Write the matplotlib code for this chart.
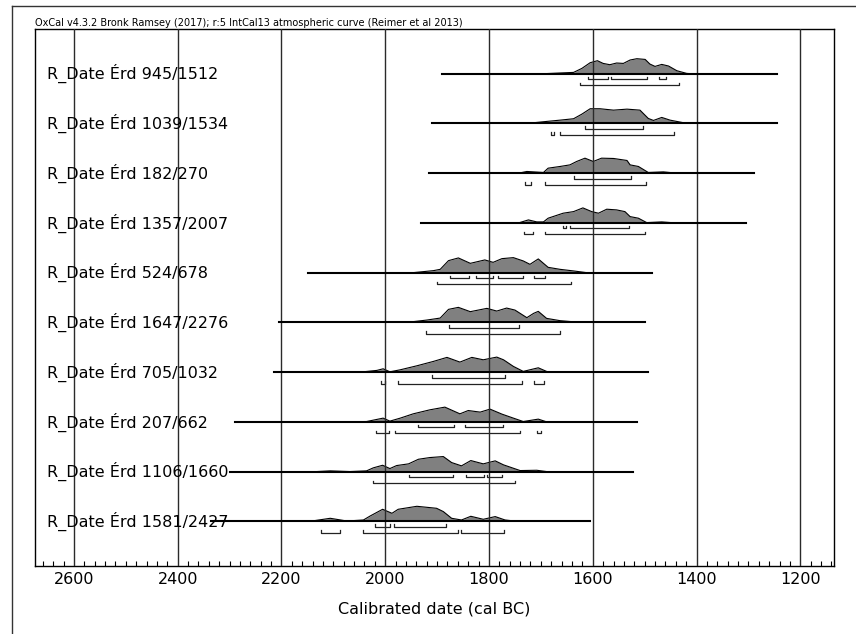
import matplotlib.pyplot as plt
from matplotlib.lines import Line2D
from matplotlib.ticker import MultipleLocator

header = 'OxCal v4.3.2 Bronk Ramsey (2017); r:5 IntCal13 atmospheric curve (Reimer et al 2013)'
names = ['R_Date Érd 945/1512', 'R_Date Érd 1039/1534', 'R_Date Érd 182/270',
         'R_Date Érd 1357/2007', 'R_Date Érd 524/678', 'R_Date Érd 1647/2276',
         'R_Date Érd 705/1032', 'R_Date Érd 207/662', 'R_Date Érd 1106/1660',
         'R_Date Érd 1581/2427']

# extent of the calibration line for each date (cal BC)
line_start = [1890, 1910, 1915, 1931, 2149, 2204, 2215, 2290, 2299, 2335]
line_end = [1245, 1245, 1290, 1305, 1486, 1499, 1493, 1514, 1522, 1605]

# probability profiles (year, relative height, max ~15)
prof_years = [
    [1695, 1637, 1621, 1605, 1591, 1580, 1567, 1554, 1541, 1528, 1515, 1499, 1490, 1480, 1467, 1454, 1438, 1419, 1410],
    [1760, 1737, 1714, 1689, 1663, 1637, 1621, 1605, 1586, 1560, 1534, 1509, 1493, 1483, 1467, 1451, 1425, 1412],
    [1743, 1727, 1695, 1686, 1663, 1644, 1631, 1615, 1599, 1583, 1560, 1534, 1528, 1512, 1493, 1464, 1438],
    [1743, 1724, 1708, 1695, 1686, 1657, 1637, 1619, 1602, 1589, 1573, 1554, 1538, 1528, 1512, 1496, 1467, 1441],
    [1946, 1907, 1894, 1878, 1859, 1836, 1808, 1792, 1775, 1753, 1734, 1721, 1705, 1686, 1663, 1637, 1612],
    [1958, 1920, 1894, 1878, 1859, 1836, 1804, 1785, 1766, 1750, 1727, 1714, 1705, 1689, 1663, 1624],
    [2048, 2016, 2004, 1991, 1971, 1939, 1907, 1881, 1856, 1833, 1811, 1785, 1772, 1753, 1734, 1705, 1686],
    [2100, 2036, 2020, 2004, 1991, 1971, 1946, 1914, 1885, 1856, 1840, 1817, 1798, 1775, 1753, 1734, 1705, 1689],
    [2132, 2106, 2068, 2036, 2023, 2005, 1991, 1978, 1955, 1936, 1914, 1888, 1872, 1853, 1835, 1811, 1788, 1772, 1740, 1708, 1689],
    [2145, 2106, 2074, 2042, 2029, 2005, 1987, 1975, 1939, 1901, 1888, 1872, 1853, 1835, 1811, 1788, 1769, 1746],
]
prof_heights = [
    [0, 1.3, 5.3, 11, 13, 10.3, 9, 10.7, 10.3, 13.7, 15, 14.3, 9.7, 7.3, 9.3, 7.7, 3, 0.3, 0],
    [0, 0.3, 0.7, 2, 3.3, 4.7, 9.3, 14.7, 14.7, 13.3, 14.3, 13.3, 5, 3, 6, 3.3, 0.7, 0],
    [0, 1.7, 0.7, 5, 6.7, 8.3, 11.7, 15, 11.7, 15, 14.7, 12.7, 8.3, 6.7, 0.7, 1.3, 0],
    [0, 3, 1, 1, 4.7, 9.7, 11.3, 15, 11.3, 9.7, 13.7, 13, 11.3, 6.3, 4.7, 0.3, 1, 0],
    [0, 2, 3.3, 12, 14.7, 9.3, 12.7, 10.3, 14, 15, 11.7, 8.3, 13.7, 5.3, 3.3, 1.7, 0],
    [0, 2.3, 4.3, 13, 15, 10.7, 14, 11.3, 14.3, 12.3, 4.7, 9, 11, 4, 1.7, 0],
    [0, 1.7, 3.3, 0.3, 2.3, 6.3, 10.7, 14.7, 10, 14.7, 12.3, 15, 12.3, 5.7, 0.7, 4.3, 0],
    [0, 0.3, 2, 3.7, 0.7, 3.7, 8, 12, 14.7, 8, 11.3, 9.7, 12.7, 7.7, 3.7, 0.3, 2.7, 0],
    [0, 0.7, 0, 0.7, 3.7, 6.3, 3, 6, 7.7, 12.3, 14, 15, 9, 5.7, 11, 7.7, 10.7, 6.7, 1, 1.3, 0],
    [0, 3, 0.3, 1.3, 5.3, 12, 8, 12, 15, 13, 9.7, 3, 1.3, 5, 2, 4.7, 1.3, 0],
]

# 68.2% and 95.4% ranges
ranges_68 = [
    [(1610, 1570), (1565, 1495), (1472, 1459)],
    [(1614, 1504)],
    [(1637, 1527)],
    [(1657, 1652), (1643, 1530)],
    [(1876, 1838), (1825, 1792), (1783, 1735), (1714, 1693)],
    [(1878, 1743)],
    [(1910, 1770)],
    [(1937, 1867), (1847, 1773)],
    [(1955, 1869), (1845, 1809), (1803, 1774)],
    [(2020, 1990), (1983, 1883)],
]
ranges_95 = [
    [(1625, 1433)],
    [(1680, 1675), (1664, 1443)],
    [(1730, 1719), (1692, 1497)],
    [(1733, 1716), (1693, 1500)],
    [(1900, 1641)],
    [(1922, 1664)],
    [(2008, 2000), (1975, 1736), (1714, 1694)],
    [(2018, 1992), (1982, 1741), (1708, 1700)],
    [(2023, 1749)],
    [(2124, 2088), (2043, 1859), (1853, 1771)],
]

fig = plt.figure(figsize=(8.56, 6.34), dpi=100)
ax = fig.add_axes([35 / 856, 1 - 566 / 634, (833.5 - 35) / 856, (566 - 29.3) / 634])

row_px = 49.73
hscale = 1.0 / row_px  # heights are in pixels
for i in range(len(names)):
    ys = [i - h * hscale for h in prof_heights[i]]
    ax.fill_between(prof_years[i], i, ys, color='#808080', lw=0, zorder=1)
    ax.plot(prof_years[i], ys, color='black', lw=0.8, zorder=2)
    ax.plot([line_start[i], line_end[i]], [i, i], color='black', lw=1.5, zorder=4)
    for rr, off in ((ranges_68[i], 5.5), (ranges_95[i], 11.5)):
        yb = i + off / row_px
        yt = yb - 2.5 / row_px
        for a, b in rr:
            ax.plot([a, a, b, b], [yt, yb, yb, yt], color='#222222', lw=0.9, zorder=3)
    ax.text(2652, i + 5.5 / row_px, names[i], fontsize=11.5, va='baseline', ha='left', zorder=5)

for g in range(1200, 2700, 200):
    ax.axvline(g, color='#2a2a2a', lw=1, zorder=3)

ax.set_xlim(2675, 1136)
ax.set_ylim(9.899, -0.893)
ax.set_yticks([])
ax.xaxis.set_major_locator(MultipleLocator(200))
ax.xaxis.set_minor_locator(MultipleLocator(20))
ax.tick_params(axis='x', which='both', direction='in', labelsize=11.5, pad=4)
ax.tick_params(axis='x', which='major', length=0)
ax.tick_params(axis='x', which='minor', length=3.5, width=0.8)
for s in ax.spines.values():
    s.set_linewidth(1)
ax.set_xlabel('Calibrated date (cal BC)', fontsize=11.5, labelpad=11)

fig.text(35 / 856, 1 - 26.5 / 634, header, fontsize=7,
         family=['Liberation Sans Narrow', 'DejaVu Sans'], va='baseline', ha='left')

# outer frame of the OxCal page
fig.add_artist(Line2D([11.7 / 856, 11.7 / 856], [0, 1 - 5.7 / 634], color='#333333', lw=1))
fig.add_artist(Line2D([11.7 / 856, 1], [1 - 5.7 / 634, 1 - 5.7 / 634], color='#333333', lw=1))

fig.savefig('out.png', dpi=100)
